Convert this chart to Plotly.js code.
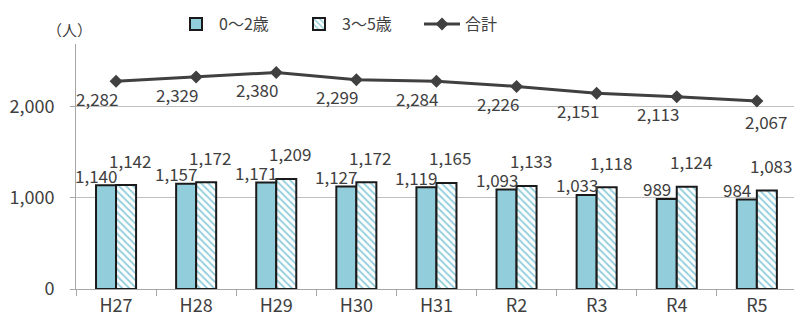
<!DOCTYPE html>
<html>
<head>
<meta charset="utf-8">
<script src="https://cdn.plot.ly/plotly-3.0.1.min.js"></script>
<style>html,body{margin:0;padding:0;background:#fff}#chart{width:794px;height:322px}</style>
</head>
<body>
<div id="chart"></div>
<script>
const categories = ['H27','H28','H29','H30','H31','R2','R3','R4','R5'];
const age02 = [1140,1157,1171,1127,1119,1093,1033,989,984];
const age35 = [1142,1172,1209,1172,1165,1133,1118,1124,1083];
const total = [2282,2329,2380,2299,2284,2226,2151,2113,2067];
const seriesNames = ['0～2歳','3～5歳','合計'];
const unitLabel = '（人）';

const FONT = '"Noto Sans CJK JP", "Noto Sans", sans-serif';
const TXT = '#404040';
const BLUE = '#92cddc';
const fmt = v => v.toLocaleString('en-US');

const traces = [
  {type:'bar', name:seriesNames[0], x:categories, y:age02,
   marker:{color:BLUE, line:{color:'#1a1a1a', width:2}}, hoverinfo:'skip'},
  {type:'bar', name:seriesNames[1], x:categories, y:age35,
   marker:{color:'#ffffff', line:{color:'#1a1a1a', width:2},
     pattern:{shape:'\\', fgcolor:BLUE, bgcolor:'#ffffff', size:5, solidity:0.35}}, hoverinfo:'skip'},
  {type:'scatter', mode:'lines+markers', name:seriesNames[2], x:categories, y:total,
   line:{color:'#404040', width:3}, marker:{symbol:'diamond', size:10, color:'#404040'}, hoverinfo:'skip'}
];

const LBL = 17;
const annotations = [];
categories.forEach((c,i)=>{
  annotations.push({x:c, y:age02[i], xref:'x', yref:'y', text:fmt(age02[i]), showarrow:false,
    xshift:-20, yshift:10, yanchor:'middle', font:{family:FONT, size:LBL, color:TXT}});
  annotations.push({x:c, y:age35[i], xref:'x', yref:'y', text:fmt(age35[i]), showarrow:false,
    xshift:14, yshift:25, yanchor:'middle', font:{family:FONT, size:LBL, color:TXT}});
  const last = i === categories.length-1;
  annotations.push({x:c, y:total[i], xref:'x', yref:'y', text:fmt(total[i]), showarrow:false,
    xshift: last ? 9 : -19, yshift: last ? -21 : -17, yanchor:'middle', font:{family:FONT, size:LBL, color:TXT}});
});
annotations.push({x:(69-76)/718, y:(289-30)/245, xref:'paper', yref:'paper', text:unitLabel, showarrow:false,
  xanchor:'center', yanchor:'middle', font:{family:FONT, size:15, color:TXT}});

const layout = {
  width:794, height:322,
  margin:{l:76, r:0, t:44, b:33},
  paper_bgcolor:'#ffffff', plot_bgcolor:'#ffffff',
  font:{family:FONT, color:TXT, size:16},
  barmode:'group', bargap:0.5, bargroupgap:0,
  showlegend:true,
  legend:{orientation:'h', xref:'container', yref:'container', x:173/794, y:1-7/322, xanchor:'left', yanchor:'top',
    font:{family:FONT, size:16, color:TXT}, entrywidth:72, entrywidthmode:'pixels', itemwidth:36, bgcolor:'rgba(0,0,0,0)'},
  xaxis:{type:'category', range:[-0.5, -0.5 + 718/80.1], tickson:'boundaries', ticks:'outside', ticklen:6,
    tickcolor:'#a6a6a6', showline:true, linecolor:'#a6a6a6', linewidth:1, showgrid:false,
    tickfont:{family:FONT, size:18, color:TXT}, fixedrange:true},
  yaxis:{range:[0, 2692], tickvals:[0,1000,2000], ticktext:['0','1,000','2,000'], ticks:'outside', ticklen:5,
    tickcolor:'#a6a6a6', showline:true, linecolor:'#a6a6a6', linewidth:1, showgrid:true, gridcolor:'#bfbfbf',
    zeroline:false, ticklabelstandoff:12, tickfont:{family:FONT, size:18, color:TXT}, fixedrange:true},
  annotations:annotations
};

Plotly.newPlot('chart', traces, layout, {staticPlot:true, displayModeBar:false});
</script>
</body>
</html>
